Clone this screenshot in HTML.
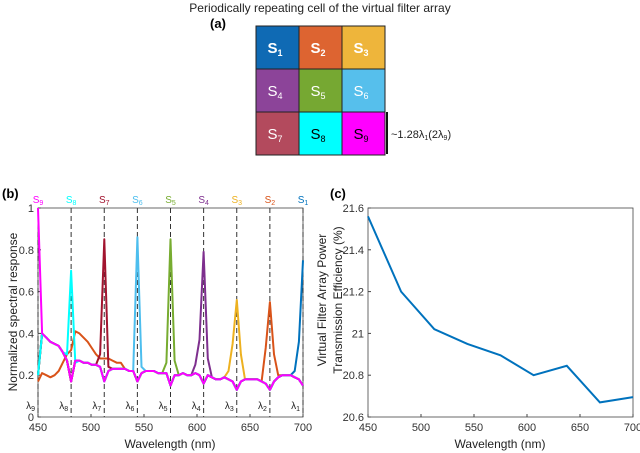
<!DOCTYPE html>
<html><head><meta charset="utf-8"><style>
body{margin:0;background:#fff;}
svg{display:block;font-family:"Liberation Sans",sans-serif;}
</style></head><body>
<svg id="fig" width="640" height="453" viewBox="0 0 640 453">
<text x="320" y="12" font-size="12" text-anchor="middle" fill="#222">Periodically repeating cell of the virtual filter array</text>
<text x="218" y="28" font-size="13" font-weight="bold" text-anchor="middle">(a)</text>
<g id="grid"></g>
<line x1="387" y1="112" x2="387" y2="154" stroke="#111" stroke-width="2"/>
<text x="391" y="138" font-size="11" fill="#222">~1.28λ<tspan font-size="7" dy="2">1</tspan><tspan dy="-2">(2λ</tspan><tspan font-size="7" dy="2">9</tspan><tspan dy="-2">)</tspan></text>
<text x="2" y="198" font-size="13" font-weight="bold">(b)</text>
<text x="330" y="198" font-size="13" font-weight="bold">(c)</text>
<g id="chartB"></g>
<g id="chartC"></g>
</svg>
<script>
const NS='http://www.w3.org/2000/svg';
function mk(tag,attrs,parent,text){const e=document.createElementNS(NS,tag);for(const k in attrs)e.setAttribute(k,attrs[k]);if(text!==undefined)e.textContent=text;parent.appendChild(e);return e;}

// ---- panel (a) data
const cellLabels=['1','2','3','4','5','6','7','8','9'];
const cellColors=['#0f6ab4','#dd6431','#eeb53b','#8c4499','#76a832','#56bfec','#b34a5d','#00ffff','#ff00ff'];
const cellTextColors=['#fff','#fff','#fff','#fff','#fff','#fff','#fff','#000','#000'];
const grid=document.getElementById('grid');
for(let i=0;i<9;i++){
  const r=Math.floor(i/3),c=i%3,x=256+c*43,y=26+r*43;
  const rc=mk('rect',{x:x,y:y,width:43,height:43,fill:cellColors[i],stroke:'#222','stroke-width':1},grid);
  
  
  const t=mk('text',{x:x+19,y:y+27,'font-size':15,fill:cellTextColors[i],'text-anchor':'middle','font-weight':i<3?'bold':'normal'},grid);
  
  
  t.appendChild(document.createTextNode('S'));
  const s=mk('tspan',{'font-size':9,dy:3},t,cellLabels[i]);
}

// ---- panel (b) data
const bWavelengthStart=450, bWavelengthEnd=700, bSampleCount=65;
const bBaseline=[0.2,0.4,0.38,0.36,0.35,0.34,0.31,0.27,0.17,
0.27,0.27,0.26,0.26,0.25,0.25,0.24,0.17,
0.22,0.23,0.23,0.23,0.23,0.22,0.22,0.17,
0.21,0.22,0.22,0.22,0.21,0.21,0.21,0.15,
0.2,0.2,0.21,0.2,0.2,0.21,0.2,0.16,
0.2,0.19,0.18,0.18,0.19,0.18,0.17,0.13,
0.17,0.18,0.18,0.18,0.18,0.17,0.16,0.13,
0.17,0.19,0.2,0.2,0.2,0.19,0.18,0.15];
const bSeriesNames=['S1','S2','S3','S4','S5','S6','S7','S8','S9'];
const bSeriesColors=['#0072BD','#D95319','#EDB120','#7E2F8E','#77AC30','#4DBEEE','#A2142F','#00FFFF','#FF00FF'];
const bOverrides=[
 {62:0.22,63:0.36,64:0.75},
 {0:0.17,1:0.21,2:0.2,3:0.19,4:0.2,5:0.22,6:0.26,7:0.3,8:0.32,9:0.41,10:0.4,11:0.38,12:0.36,13:0.33,14:0.3,15:0.28,16:0.28,17:0.28,18:0.27,19:0.26,20:0.26,55:0.33,56:0.55,57:0.3,58:0.2},
 {46:0.22,47:0.35,48:0.56,49:0.3},
 {38:0.25,39:0.37,40:0.79,41:0.28},
 {31:0.26,32:0.85,33:0.27},
 {23:0.22,24:0.86,25:0.24},
 {15:0.3,16:0.85,17:0.24},
 {7:0.3,8:0.7,9:0.26},
 {0:1.0}
];
const bPeakLabels=['9','8','7','6','5','4','3','2','1'];
const bPeakWavelengths=[450,481.25,512.5,543.75,575,606.25,637.5,668.75,700];
const bPeakLabelColors=['#FF00FF','#00FFFF','#A2142F','#4DBEEE','#77AC30','#7E2F8E','#EDB120','#D95319','#0072BD'];
const bXTicks=[450,500,550,600,650,700];
const bYTicks=[0,0.2,0.4,0.6,0.8,1];
const bYTickLabels=['0','0.2','0.4','0.6','0.8','1'];

const bx=v=>38+(v-450)/250*265;
const by=v=>417-v*209;
const B=document.getElementById('chartB');
const bg=mk('rect',{x:38,y:208,width:265,height:209,fill:'#fff',stroke:'#444','stroke-width':0.8},B);

bXTicks.forEach(v=>{
  const t=mk('text',{x:bx(v),y:431,'font-size':11,'text-anchor':'middle',fill:'#333'},B,String(v));
  
  mk('line',{x1:bx(v),y1:417,x2:bx(v),y2:414,stroke:'#444'},B);
});
bYTicks.forEach((v,i)=>{
  const t=mk('text',{x:34,y:by(v)+4,'font-size':11,'text-anchor':'end',fill:'#333'},B,bYTickLabels[i]);
  
  mk('line',{x1:38,y1:by(v),x2:41,y2:by(v),stroke:'#444'},B);
});
bPeakWavelengths.forEach((w,i)=>{
  const l=mk('line',{x1:bx(w),y1:208,x2:bx(w),y2:417,stroke:'#333','stroke-width':1,'stroke-dasharray':'5,3'},B);
  
  const t=mk('text',{x:bx(w),y:203,'font-size':10,'text-anchor':'middle',fill:bPeakLabelColors[i]},B,'S');
  
  mk('tspan',{'font-size':7,dy:2},t,bPeakLabels[i]);
  const lt=mk('text',{x:bx(w)-3,y:409,'font-size':10,'text-anchor':'end',fill:'#222'},B,'λ');
  
  mk('tspan',{'font-size':7,dy:2},lt,bPeakLabels[i]);
});
const order=[1,0,2,3,4,5,6,7,8];
order.forEach(s=>{
  const pts=[];
  for(let i=0;i<bSampleCount;i++){
    const w=bWavelengthStart+i*(bWavelengthEnd-bWavelengthStart)/(bSampleCount-1);
    const v=(bOverrides[s][i]!==undefined)?bOverrides[s][i]:bBaseline[i];
    pts.push(bx(w).toFixed(1)+','+by(v).toFixed(1));
  }
  const p=mk('polyline',{points:pts.join(' '),fill:'none',stroke:bSeriesColors[s],'stroke-width':2,'stroke-linejoin':'round'},B);
  
  
});
const bxl=mk('text',{x:170,y:448,'font-size':12,'text-anchor':'middle',fill:'#222'},B,'Wavelength (nm)');

const byl=mk('text',{x:0,y:0,'font-size':12,'text-anchor':'middle',fill:'#222',transform:'translate(17,312) rotate(-90)'},B,'Normalized spectral response');


// ---- panel (c) data
const cWavelengths=[450,481.25,512.5,543.75,575,606.25,637.5,668.75,700];
const cEfficiency=[21.56,21.2,21.02,20.95,20.895,20.8,20.845,20.67,20.695];
const cXTicks=[450,500,550,600,650,700];
const cYTicks=[20.6,20.8,21,21.2,21.4,21.6];
const cYTickLabels=['20.6','20.8','21','21.2','21.4','21.6'];
const cx=v=>368+(v-450)/250*265;
const cy=v=>417-(v-20.6)*209;
const C=document.getElementById('chartC');
const cbg=mk('rect',{x:368,y:208,width:265,height:209,fill:'#fff',stroke:'#444','stroke-width':0.8},C);

cXTicks.forEach(v=>{
  const t=mk('text',{x:cx(v),y:431,'font-size':11,'text-anchor':'middle',fill:'#333'},C,String(v));
  
  mk('line',{x1:cx(v),y1:417,x2:cx(v),y2:414,stroke:'#444'},C);
});
cYTicks.forEach((v,i)=>{
  const t=mk('text',{x:364,y:cy(v)+4,'font-size':11,'text-anchor':'end',fill:'#333'},C,cYTickLabels[i]);
  
  mk('line',{x1:368,y1:cy(v),x2:371,y2:cy(v),stroke:'#444'},C);
});
const cpts=cWavelengths.map((w,i)=>cx(w).toFixed(1)+','+cy(cEfficiency[i]).toFixed(1)).join(' ');
const cl=mk('polyline',{points:cpts,fill:'none',stroke:'#0072BD','stroke-width':2},C);

const cxl=mk('text',{x:500,y:448,'font-size':12,'text-anchor':'middle',fill:'#222'},C,'Wavelength (nm)');

const cyl1=mk('text',{x:0,y:0,'font-size':12,'text-anchor':'middle',fill:'#222',transform:'translate(326,300) rotate(-90)'},C,'Virtual Filter Array Power');

const cyl2=mk('text',{x:0,y:0,'font-size':12,'text-anchor':'middle',fill:'#222',transform:'translate(342,300) rotate(-90)'},C,'Transmission Efficiency (%)');

</script>
</body></html>
